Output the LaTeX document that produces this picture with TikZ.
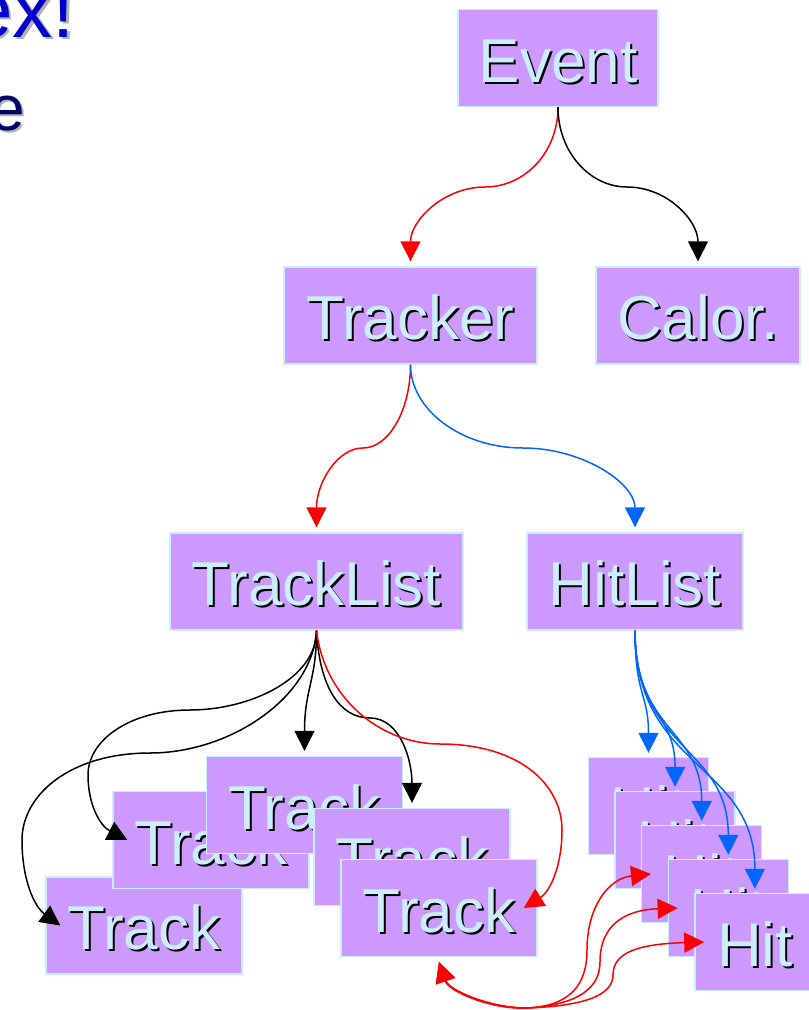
\documentclass[tikz,border=0pt]{standalone}
\usepackage{fontspec}
\setmainfont{Liberation Sans}
\usetikzlibrary{arrows.meta}

\definecolor{boxfill}{RGB}{204,153,255}
\definecolor{boxedge}{RGB}{204,236,255}
\definecolor{labelfg}{RGB}{204,236,255}
\definecolor{linkred}{RGB}{255,0,0}
\definecolor{linkblue}{RGB}{0,102,255}
\definecolor{titleblue}{RGB}{0,0,204}
\definecolor{bodynavy}{RGB}{0,0,102}
\definecolor{dropgrey}{RGB}{178,178,178}

% light label with a black drop shadow
\newcommand{\boxlabel}[1]{\makebox[0pt][l]{\kern2pt\raisebox{-2pt}[0pt][0pt]{\color{black}#1}}{\color{labelfg}#1}}
% slide text with a grey drop shadow
\newcommand{\slidetext}[2]{\makebox[0pt][l]{\kern2.5pt\raisebox{-2.5pt}[0pt][0pt]{\color{dropgrey}#2}}{\color{#1}#2}}

\begin{document}
\begin{tikzpicture}[x=1pt,y=-1pt,
  obj/.style={draw=boxedge, line width=1.4pt, fill=boxfill, inner sep=0pt,
              minimum height=97pt, text height=48pt, text depth=0pt,
              font=\fontsize{62}{62}\selectfont},
  trackbox/.style={obj, minimum width=196pt},
  hitbox/.style={obj, minimum width=120pt},
  link/.style={line width=1.5pt, -{Triangle[length=20pt,width=20pt]}},
  both/.style={line width=1.5pt, {Triangle[length=20pt,width=20pt]}-{Triangle[length=20pt,width=20pt]}}]

\useasboundingbox (0,0) rectangle (809,1010);
\clip (0,0) rectangle (809,1010);

% slide text running in from the left
\node[anchor=base west, inner sep=0pt, font=\fontsize{80}{80}\selectfont] (title) at (-32,37) {\slidetext{titleblue}{ex!}};
\node[anchor=base west, inner sep=0pt, font=\fontsize{64}{64}\selectfont] (body) at (-11,130) {\slidetext{bodynavy}{e}};

% object tree
\node[obj, minimum width=200pt] (event) at (558,58) {\boxlabel{Event}};
\node[obj, minimum width=253pt] (tracker) at (410.5,315.5) {\boxlabel{Tracker}};
\node[obj, minimum width=204pt] (calor) at (698,315.5) {\boxlabel{Calor.}};
\node[obj, minimum width=293pt] (tracklist) at (316.5,581.5) {\boxlabel{TrackList}};
\node[obj, minimum width=216pt] (hitlist) at (635,581.5) {\boxlabel{HitList}};

% stacked tracks
\node[trackbox] (trA) at (144,925.5) {\boxlabel{Track}};
\node[trackbox] (trB) at (211,840) {\boxlabel{Track}};
\node[trackbox] (trC) at (304.5,805) {\boxlabel{Track}};
\node[trackbox] (trD) at (412,857) {\boxlabel{Track}};
\node[trackbox] (trE) at (439,908) {\boxlabel{Track}};

% stacked hits
\foreach \k in {1,...,5}
  \node[hitbox] (h\k) at ({648.5+26.6*(\k-1)},{806+34*(\k-1)}) {\boxlabel{Hit}};

% Event -> Tracker, Calor.
\draw[link, linkred] (event.south) .. controls +(0,45) and +(40,0) .. (485,187)
  .. controls +(-41,0) and +(0,-41) .. ([yshift=5pt]tracker.north);
\draw[link, black] (event.south) .. controls +(0,45) and +(-37,0) .. (627,187)
  .. controls +(40,0) and +(0,-41) .. ([yshift=5pt]calor.north);

% Tracker -> TrackList, HitList
\draw[link, linkred] (tracker.south) .. controls +(0,45) and +(26,0) .. (363,448)
  .. controls +(-26,0) and +(0,-44) .. ([yshift=5pt]tracklist.north);
\draw[link, linkblue] (tracker.south) .. controls +(0,45) and +(-62,0) .. (523,448)
  .. controls +(60,0) and +(0,-44) .. ([yshift=5pt]hitlist.north);

% TrackList -> tracks
\draw[link, black] (tracklist.south) .. controls +(-4,67) and +(80,0) .. (150,753)
  .. controls +(-80,0) and +(0,-45) .. (22,840)
  .. controls +(0,40) and +(-26,-19) .. ([xshift=15pt]trA.west);
\draw[link, black] (tracklist.south) .. controls +(0,48) and +(60,0) .. (190,710)
  .. controls +(-60,0) and +(0,-35) .. (88,775)
  .. controls +(0,30) and +(-27,-14) .. ([xshift=15pt]trB.west);
\draw[link, black] (tracklist.south) .. controls +(0,50) and +(0,-62) .. ([yshift=5pt]trC.north);
\draw[link, black] (tracklist.south) .. controls +(3,57) and +(-30,0) .. (370,718)
  .. controls +(30,0) and +(0,-43) .. ([yshift=5pt]trD.north);
\draw[link, linkred] (tracklist.south) .. controls +(8,67) and +(-60,0) .. (440,744)
  .. controls +(80,0) and +(0,-45) .. (562,830)
  .. controls +(0,35) and +(27,-17) .. ([xshift=-14pt]trE.east);

% HitList -> hits
\foreach \k/\a/\b in {1/65/59, 2/84/76, 3/102/93, 4/121/110, 5/140/127}
  \draw[link, linkblue] (hitlist.south) .. controls +(0,\a) and +(0,-\b) .. ([yshift=4pt]h\k.north);

% track <-> hit associations
\coordinate (junc) at (527,1008);
\draw[both, linkred] ([yshift=-5pt]trE.south) .. controls +(10,28) and +(-37,0) .. (junc)
  .. controls +(43,-2) and +(0,35) .. (587,950)
  .. controls +(0,-45) and +(-41,4) .. ([xshift=10pt]h3.west);
\draw[both, linkred] ([yshift=-5pt]trE.south) .. controls +(10,29) and +(-35,1) .. (junc)
  .. controls +(48,-3) and +(0,28) .. (600,962)
  .. controls +(0,-37) and +(-53,2) .. ([xshift=10pt]h4.west);
\draw[both, linkred] ([yshift=-5pt]trE.south) .. controls +(10,30) and +(-33,2) .. (junc)
  .. controls +(58,-2) and +(0,20) .. (613,975)
  .. controls +(0,-23) and +(-65,2) .. ([xshift=10pt]h5.west);
\end{tikzpicture}
\end{document}
